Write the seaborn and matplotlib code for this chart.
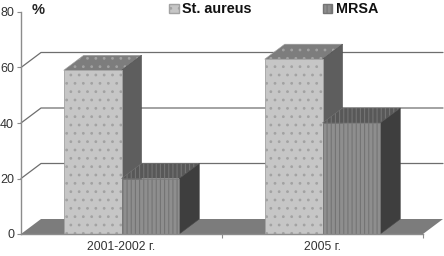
import matplotlib
matplotlib.use("Agg")
import matplotlib.pyplot as plt
import pandas as pd
import seaborn as sns

# DATA:
periods = ["2001-2002 г.", "2005 г."]
st_aureus = [59, 63]
mrsa = [20, 40]
series_names = ["St. aureus", "MRSA"]
y_ticks = [0, 20, 40, 60, 80]

df = pd.DataFrame({
    "period": periods * 2,
    "value": st_aureus + mrsa,
    "series": [series_names[0]] * 2 + [series_names[1]] * 2,
})

sns.set_style("white")
plt.rcParams["font.family"] = ["Liberation Sans", "DejaVu Sans"]
plt.rcParams["hatch.linewidth"] = 0.8

fig = plt.figure(figsize=(4.44, 2.56), dpi=100)
ax = fig.add_axes([21 / 444, 22 / 256, 402 / 444, 222 / 256])

sns.barplot(data=df, x="period", y="value", hue="series", order=periods,
            hue_order=series_names, palette=["#c6c6c6", "#8e8e8e"],
            width=0.575, gap=0, saturation=1, ax=ax)
ax.set_xlim(-0.5, 1.5)
ax.set_ylim(0, 80)
ax.set_xlabel("")
ax.set_ylabel("")

# depth of the fake 3D, in data units
dx = 20 / 201
dy = 15 / 2.775

# back wall grid lines and floor
xl, xr = ax.get_xlim()
for t in y_ticks[1:-1]:
    ax.plot([xl, xl + dx, xr + dx], [t, t + dy, t + dy], color="#6e6e6e",
            lw=0.9, clip_on=False, zorder=1)
ax.fill([xl, xr, xr + dx, xl + dx], [0, 0, dy, dy], color="#7c7c7c",
        clip_on=False, zorder=1.5, lw=0)

# BARS WITH TOP AND SIDE FACES:
styles = [
    dict(hatch="..", edge="#a2a2a2", top="#7d7d7d", side="#5e5e5e", z=2),
    dict(hatch="||||", edge="#747474", top="#585858", side="#3e3e3e", z=4),
]
for cont, st in zip(ax.containers, styles):
    for bar in cont:
        x0 = bar.get_x()
        x1 = x0 + bar.get_width()
        h = bar.get_height()
        bar.set_hatch(st["hatch"])
        bar.set_edgecolor(st["edge"])
        bar.set_linewidth(0.6)
        bar.set_zorder(st["z"] + 1)
        ax.fill([x0, x1, x1 + dx, x0 + dx], [h, h, h + dy, h + dy],
                facecolor=st["top"], edgecolor=st["edge"], hatch=st["hatch"],
                lw=0.4, clip_on=False, zorder=st["z"])
        ax.fill([x1, x1 + dx, x1 + dx, x1], [0, dy, h + dy, h],
                facecolor=st["side"], edgecolor="#4a4a4a", lw=0.4,
                clip_on=False, zorder=st["z"])

# AXES:
sns.despine(ax=ax, top=True, right=True)
for s in ["left", "bottom"]:
    ax.spines[s].set_color("#8c8c8c")
    ax.spines[s].set_linewidth(1.0)
    ax.spines[s].set_zorder(8)
ax.set_yticks(y_ticks)
ax.set_xticks([0.5, 1.5], minor=True)
ax.tick_params(axis="y", length=3, width=0.8, color="#8c8c8c",
               labelcolor="#333333", labelsize=9, pad=2, left=True)
ax.tick_params(axis="x", which="major", length=0, labelcolor="#333333",
               labelsize=8.8, pad=5)
ax.tick_params(axis="x", which="minor", length=3, width=0.8, color="#8c8c8c",
               bottom=True)

handles, labels = ax.get_legend_handles_labels()
leg = ax.legend(handles, labels, ncol=2, frameon=False, loc="upper left",
                bbox_to_anchor=(168 / 444, 1 - 1 / 256),
                bbox_transform=fig.transFigure,
                prop={"weight": "bold", "size": 10.4}, borderaxespad=0,
                borderpad=0.1, handlelength=0.65, handleheight=0.65,
                handletextpad=0.25, columnspacing=4.9)
for t in leg.get_texts():
    t.set_color("#111111")
for h, st in zip(leg.legend_handles, styles):
    h.set_hatch(st["hatch"])
    h.set_edgecolor(st["edge"])

fig.text(32 / 444, 1 - 14 / 256, "%", fontsize=10.5, fontweight="bold",
         color="#222222")

fig.savefig("out.png", dpi=100)
